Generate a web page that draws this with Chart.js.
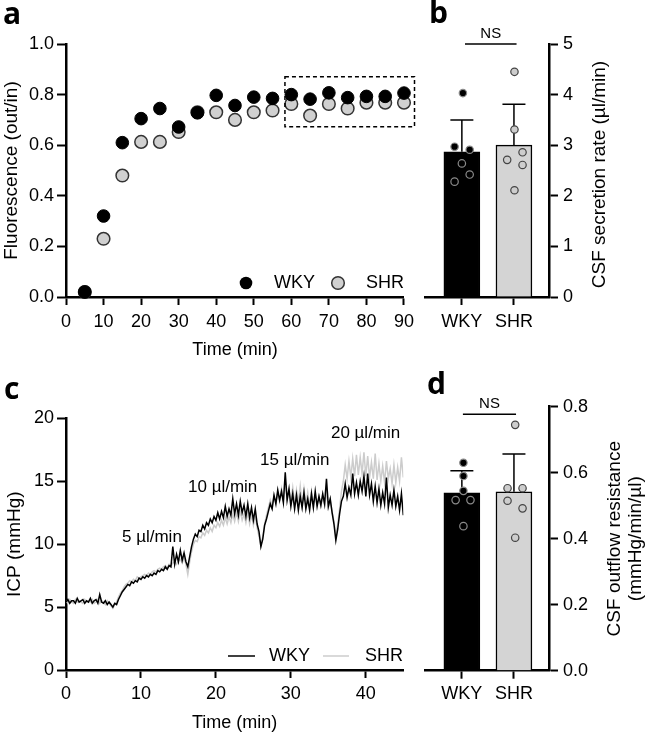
<!DOCTYPE html>
<html>
<head>
<meta charset="UTF-8">
<title>WKY vs SHR</title>
<script src="https://cdn.jsdelivr.net/npm/chart.js"></script>
<style>
  body { margin: 0; background: #fff; }
  #fig { position: relative; width: 650px; height: 735px; overflow: hidden; }
  canvas { position: absolute; }
  .letter { position: absolute; font: 700 30px "Open Sans", sans-serif; line-height: 30px; }
</style>
</head>
<body>
<div id="fig">
  <canvas id="chartA" width="420" height="365" style="left:0;top:0"></canvas>
  <canvas id="chartB" width="230" height="365" style="left:420px;top:0"></canvas>
  <canvas id="chartC" width="420" height="355" style="left:0;top:380px"></canvas>
  <canvas id="chartD" width="230" height="355" style="left:420px;top:380px"></canvas>
  <div class="letter" style="left:3px;top:-2px">a</div>
  <div class="letter" style="left:429px;top:-3px">b</div>
  <div class="letter" style="left:4px;top:373px">c</div>
  <div class="letter" style="left:427px;top:368px">d</div>
</div>
<script>
// a: fluorescence (out/in) over time
const fluorTime = [5, 10, 15, 20, 25, 30, 35, 40, 45, 50, 55, 60, 65, 70, 75, 80, 85, 90];
const fluorWKY = [0.02, 0.32, 0.61, 0.705, 0.745, 0.672, 0.728, 0.797, 0.757, 0.79, 0.785, 0.80, 0.782, 0.807, 0.788, 0.793, 0.793, 0.806];
const fluorSHR = [0.02, 0.23, 0.48, 0.613, 0.613, 0.652, 0.73, 0.73, 0.70, 0.73, 0.737, 0.763, 0.717, 0.763, 0.745, 0.768, 0.768, 0.768];
const plateauBox = [58.3, 92.8, 0.673, 0.871]; // x from, x to, y low, y high

// b: CSF secretion rate
const groups = ['WKY', 'SHR'];
const secretionMean = [2.87, 3.00];
const secretionSD = [0.63, 0.81];
const secretionWKY = [4.03, 2.97, 2.91, 2.64, 2.42, 2.28];
const secretionSHR = [4.45, 3.31, 2.71, 2.86, 2.61, 2.11];
const jitterB_WKY = [0.02, -0.14, 0.15, 0, 0.15, -0.14];
const jitterB_SHR = [0.01, 0.01, -0.13, 0.165, 0.165, 0.01];

// c: ICP trace, one sample every 0.25 min
const icpStep = 0.25;
const icpWKY = [
  5.4, 5.6, 5.3, 5.5,   5.5, 5.3, 5.7, 5.4,   5.5, 5.6, 5.3, 5.5,   5.4, 5.7, 5.3, 5.5,
  5.6, 5.3, 6.0, 5.4,   5.3, 5.5, 5.2, 5.4,   5.2, 5.0, 5.3, 5.2,   5.6, 5.9, 6.2, 6.4,
  6.6, 6.8, 6.7, 7.0,   6.9, 7.1, 7.0, 7.3,   7.2, 7.4, 7.3, 7.5,   7.4, 7.6, 7.5, 7.7,
  7.6, 7.9, 7.8, 8.0,   7.9, 8.2, 8.0, 8.3,   8.2, 9.8, 8.4, 9.2,   8.6, 9.5, 8.7, 9.3,
  8.6, 8.2, 9.0, 9.8,   10.4, 10.8, 10.6, 11.1,   11.0, 11.5, 11.2, 11.7,   11.5, 12.0, 11.7, 12.2,
  11.9, 12.5, 12.0, 12.6,   12.1, 13.0, 12.2, 12.8,   12.3, 13.6, 12.4, 13.2,   12.3, 13.4, 12.5, 13.1,
  12.2, 13.2, 12.1, 12.9,   11.9, 12.8, 11.6, 11.0,   9.8, 10.4, 11.5, 12.0,   12.6, 13.2, 12.8, 13.9,
  13.2, 14.3, 13.5, 14.2,   13.3, 15.7, 13.5, 14.4,   13.0, 14.0, 12.8, 13.9,   12.7, 13.8, 12.9, 14.1,
  12.8, 13.6, 12.7, 14.0,   12.9, 14.2, 13.0, 13.8,   13.1, 14.0, 13.2, 15.2,   13.0, 13.6, 12.5, 11.6,
  10.3, 11.2, 12.4, 13.4,   13.8, 14.8, 13.7, 14.5,   13.9, 15.6, 14.0, 14.9,   13.9, 15.0, 14.2, 15.4,
  13.8, 15.6, 13.9, 14.8,   13.4, 14.6, 13.3, 14.4,   13.1, 14.1, 13.2, 15.3,   12.9, 13.9, 13.1, 14.3,
  13.0, 13.8, 12.7, 14.0,   12.3
];
const icpSHR = [
  5.5, 5.3, 5.6, 5.4,   5.3, 5.6, 5.4, 5.5,   5.4, 5.3, 5.6, 5.4,   5.5, 5.4, 5.6, 5.3,
  5.4, 5.6, 5.3, 5.5,   5.4, 5.2, 5.5, 5.3,   5.1, 4.9, 5.2, 5.4,   5.8, 6.1, 6.3, 6.6,
  6.8, 6.9, 7.1, 7.0,   7.2, 7.1, 7.4, 7.3,   7.4, 7.5, 7.6, 7.5,   7.7, 7.6, 7.8, 7.9,
  7.8, 8.0, 8.1, 8.0,   8.2, 8.3, 8.1, 8.4,   8.3, 8.5, 8.6, 8.4,   8.7, 8.8, 8.5, 8.9,
  8.4, 7.6, 8.6, 9.4,   10.0, 10.3, 10.2, 10.6,   10.5, 10.9, 10.7, 11.1,   10.9, 11.3, 11.0, 11.5,
  11.3, 11.7, 11.4, 11.9,   11.5, 12.1, 11.6, 12.2,   11.7, 12.4, 11.8, 12.5,   11.8, 12.6, 11.9, 12.4,
  11.7, 12.5, 11.6, 12.3,   11.5, 12.2, 11.3, 10.6,   9.9, 10.6, 11.6, 12.3,   12.9, 13.5, 13.0, 13.8,
  13.3, 14.1, 13.4, 14.4,   13.5, 14.8, 13.6, 14.3,   13.4, 14.5, 13.2, 14.3,   13.3, 14.6, 13.1, 14.4,
  13.2, 14.1, 13.0, 14.2,   13.1, 13.9, 13.2, 13.8,   13.0, 13.7, 13.1, 14.2,   12.9, 13.5, 12.6, 11.8,
  10.7, 11.6, 12.8, 14.2,   15.0, 16.3, 15.2, 16.6,   15.3, 16.8, 15.4, 17.1,   15.5, 16.9, 15.6, 17.3,
  15.4, 17.0, 15.3, 16.5,   15.2, 17.2, 15.1, 16.4,   15.0, 16.2, 14.9, 16.6,   15.2, 16.0, 14.8, 16.3,
  14.9, 16.1, 15.0, 16.9,   15.3
];
const rateLabels = ['5 µl/min', '10 µl/min', '15 µl/min', '20 µl/min'];
const rateLabelTime = [11.46, 20.9, 30.52, 39.97];
const rateLabelICP = [10.55, 14.52, 16.64, 18.8];

// d: CSF outflow resistance
const resistanceMean = [0.539, 0.542];
const resistanceSD = [0.067, 0.115];
const resistanceWKY = [0.63, 0.59, 0.545, 0.517, 0.517, 0.438];
const resistanceSHR = [0.745, 0.553, 0.553, 0.515, 0.492, 0.403];
const jitterD_WKY = [0.03, 0.03, 0.03, -0.12, 0.165, 0.03];
const jitterD_SHR = [0.024, -0.123, 0.165, -0.123, 0.165, 0.024];

const FONT = '"Liberation Sans", Arial, sans-serif';
Chart.defaults.font.family = FONT;
Chart.defaults.font.size = 18;
Chart.defaults.color = '#000';

function axis(tickLen, pad, extra) {
  return Object.assign({
    border: { display: true, color: '#000', width: 2.5 },
    grid: { drawOnChartArea: false, tickLength: tickLen, tickWidth: 2, tickColor: '#000', offset: false },
    ticks: { padding: pad, color: '#000', font: { size: 18 } }
  }, extra);
}

function text(ctx, str, x, y, size, align, rot) {
  ctx.save();
  ctx.font = size + 'px ' + FONT;
  ctx.fillStyle = '#000';
  ctx.textAlign = align || 'center';
  ctx.textBaseline = 'middle';
  ctx.translate(x, y);
  if (rot) ctx.rotate(rot);
  ctx.fillText(str, 0, 0);
  ctx.restore();
}

// ---------- a ----------
new Chart(document.getElementById('chartA'), {
  type: 'scatter',
  data: {
    datasets: [
      { label: 'WKY', data: fluorTime.map((t, i) => ({ x: t, y: fluorWKY[i] })),
        pointRadius: 6.3, backgroundColor: '#000', borderColor: '#000', borderWidth: 1, order: 1, clip: false },
      { label: 'SHR', data: fluorTime.map((t, i) => ({ x: t, y: fluorSHR[i] })),
        pointRadius: 6.3, backgroundColor: '#d0d0d0', borderColor: '#333', borderWidth: 1.5, order: 2, clip: false }
    ]
  },
  options: {
    responsive: false, animation: false, events: [],
    layout: { padding: { top: 44, right: 15, left: 0, bottom: 0 } },
    plugins: { legend: { display: false }, tooltip: { enabled: false } },
    scales: {
      x: axis(8, 6, {
        min: 0, max: 90,
        ticks: { stepSize: 10, padding: 6, color: '#000', font: { size: 18 } },
        title: { display: true, text: 'Time (min)', font: { size: 18 }, padding: { top: 0, bottom: 4 } },
        afterFit: s => { s.height = 68; }
      }),
      y: axis(9, 3, {
        min: 0, max: 1,
        ticks: { stepSize: 0.2, padding: 3, color: '#000', font: { size: 18 }, callback: v => v.toFixed(1) },
        title: { display: true, text: 'Fluorescence (out/in)', font: { size: 19 }, padding: { top: 0, bottom: 0 } },
        afterFit: s => { s.width = 66; }
      })
    }
  },
  plugins: [{
    id: 'extrasA',
    afterDatasetsDraw(chart) {
      const { ctx, scales: { x, y } } = chart;
      const [x0, x1, y0, y1] = plateauBox;
      ctx.save();
      ctx.strokeStyle = '#000';
      ctx.lineWidth = 1.5;
      ctx.setLineDash([4, 3]);
      ctx.strokeRect(x.getPixelForValue(x0), y.getPixelForValue(y1),
        x.getPixelForValue(x1) - x.getPixelForValue(x0), y.getPixelForValue(y0) - y.getPixelForValue(y1));
      ctx.restore();
      // legend
      ctx.save();
      ctx.beginPath(); ctx.arc(246, 283, 6.3, 0, Math.PI * 2);
      ctx.fillStyle = '#000'; ctx.fill();
      ctx.beginPath(); ctx.arc(338, 283, 6.3, 0, Math.PI * 2);
      ctx.fillStyle = '#d0d0d0'; ctx.fill();
      ctx.lineWidth = 1.5; ctx.strokeStyle = '#333'; ctx.stroke();
      ctx.restore();
      text(ctx, 'WKY', 274, 283, 18, 'left');
      text(ctx, 'SHR', 366, 283, 18, 'left');
    }
  }]
});

// ---------- b & d ----------
function barPanel(id, o) {
  new Chart(document.getElementById(id), {
    type: 'bar',
    data: {
      datasets: [
        { type: 'bar', data: groups.map((g, i) => ({ x: i, y: o.mean[i] })),
          backgroundColor: ['#000', '#d4d4d4'], borderColor: '#000', borderWidth: 1.5, barThickness: 36, order: 3 },
        { type: 'scatter', data: o.wky.map((v, i) => ({ x: o.jw[i], y: v })),
          pointRadius: 3.7, backgroundColor: '#000', borderColor: '#8a8a8a', borderWidth: 1.2, order: 1, clip: false },
        { type: 'scatter', data: o.shr.map((v, i) => ({ x: 1 + o.js[i], y: v })),
          pointRadius: 3.7, backgroundColor: '#cdcdcd', borderColor: '#444', borderWidth: 1.2, order: 1, clip: false }
      ]
    },
    options: {
      responsive: false, animation: false, events: [],
      layout: { padding: { top: o.top, right: 0, left: 0, bottom: 0 } },
      plugins: { legend: { display: false }, tooltip: { enabled: false } },
      scales: {
        x: axis(8, o.xpad, {
          type: 'linear', offset: false, min: -0.704, max: 1.673,
          afterBuildTicks: s => { s.ticks = groups.map((g, i) => ({ value: i })); },
          ticks: { padding: o.xpad, color: '#000', font: { size: 18 }, callback: v => groups[v] },
          afterFit: s => { s.height = o.xh; }
        }),
        y: axis(9, 5, {
          position: 'right', min: 0, max: o.max,
          ticks: { stepSize: o.step, padding: 5, color: '#000', font: { size: 18 }, callback: v => v.toFixed(o.dec) },
          afterFit: s => { s.width = 101; }
        })
      }
    },
    plugins: [{
      id: 'extras' + id,
      afterDatasetDraw(chart, args) {
        if (args.index !== 0) return;
        const { ctx, scales: { x, y } } = chart;
        ctx.save();
        ctx.strokeStyle = '#000';
        ctx.lineWidth = 1.5;
        o.mean.forEach((m, i) => {
          const px = x.getPixelForValue(i);
          const top = y.getPixelForValue(m + o.sd[i]);
          ctx.beginPath();
          ctx.moveTo(px, y.getPixelForValue(m));
          ctx.lineTo(px, top);
          ctx.moveTo(px - 11.5, top);
          ctx.lineTo(px + 11.5, top);
          ctx.stroke();
        });
        ctx.restore();
      },
      afterDraw(chart) {
        const { ctx, chartArea, scales: { x, y } } = chart;
        const ly = y.getPixelForValue(o.nsY);
        ctx.save();
        ctx.strokeStyle = '#000';
        ctx.lineWidth = 1.5;
        ctx.beginPath();
        ctx.moveTo(x.getPixelForValue(o.nsFrom), ly);
        ctx.lineTo(x.getPixelForValue(o.nsTo), ly);
        ctx.stroke();
        ctx.restore();
        text(ctx, 'NS', x.getPixelForValue((o.nsFrom + o.nsTo) / 2), ly - 10, 15);
        const yc = (chartArea.top + chartArea.bottom) / 2 + o.titleShift;
        o.title.forEach((line, i) => {
          text(ctx, line, y.left + o.titleX[i], yc, 19, 'center', -Math.PI / 2);
        });
      }
    }]
  });
}

barPanel('chartB', {
  mean: secretionMean, sd: secretionSD, wky: secretionWKY, shr: secretionSHR,
  jw: jitterB_WKY, js: jitterB_SHR, max: 5, step: 1, dec: 0,
  top: 44, xh: 68, xpad: 6, nsY: 5.0, nsFrom: 0.06, nsTo: 1.05,
  title: ['CSF secretion rate (µl/min)'], titleX: [51], titleShift: 4
});

barPanel('chartD', {
  mean: resistanceMean, sd: resistanceSD, wky: resistanceWKY, shr: resistanceSHR,
  jw: jitterD_WKY, js: jitterD_SHR, max: 0.8, step: 0.2, dec: 1,
  top: 26.7, xh: 64.3, xpad: 4.5, nsY: 0.777, nsFrom: 0.02, nsTo: 1.04,
  title: ['CSF outflow resistance', '(mmHg/min/µl)'], titleX: [66, 87], titleShift: 0
});

// ---------- c ----------
new Chart(document.getElementById('chartC'), {
  type: 'line',
  data: {
    datasets: [
      { label: 'WKY', data: icpWKY.map((v, i) => ({ x: i * icpStep, y: v })),
        borderColor: '#000', borderWidth: 1.5, pointRadius: 0, tension: 0, order: 1 },
      { label: 'SHR', data: icpSHR.map((v, i) => ({ x: i * icpStep, y: v })),
        borderColor: '#cccccc', borderWidth: 1.5, pointRadius: 0, tension: 0, order: 2 }
    ]
  },
  options: {
    responsive: false, animation: false, events: [],
    layout: { padding: { top: 38.3, right: 16.7, left: 0, bottom: 0 } },
    plugins: { legend: { display: false }, tooltip: { enabled: false } },
    scales: {
      x: axis(8, 5, {
        type: 'linear', min: 0, max: 45,
        ticks: { stepSize: 10, includeBounds: false, padding: 5, color: '#000', font: { size: 18 } },
        title: { display: true, text: 'Time (min)', font: { size: 18 }, padding: { top: 0, bottom: 1 } },
        afterFit: s => { s.height = 65; }
      }),
      y: axis(9, 3, {
        min: 0, max: 20,
        ticks: { stepSize: 5, padding: 3, color: '#000', font: { size: 18 } },
        title: { display: true, text: 'ICP (mmHg)', font: { size: 19 }, padding: { top: 3.6, bottom: 0 } },
        afterFit: s => { s.width = 66; }
      })
    }
  },
  plugins: [{
    id: 'extrasC',
    afterDraw(chart) {
      const { ctx, scales: { x, y } } = chart;
      rateLabels.forEach((s, i) => {
        text(ctx, s, x.getPixelForValue(rateLabelTime[i]), y.getPixelForValue(rateLabelICP[i]), 17);
      });
      ctx.save();
      ctx.lineWidth = 1.5;
      ctx.strokeStyle = '#000';
      ctx.beginPath(); ctx.moveTo(228, 276); ctx.lineTo(255, 276); ctx.stroke();
      ctx.strokeStyle = '#cccccc';
      ctx.beginPath(); ctx.moveTo(323, 276); ctx.lineTo(349, 276); ctx.stroke();
      ctx.restore();
      text(ctx, 'WKY', 269, 276, 18, 'left');
      text(ctx, 'SHR', 365, 276, 18, 'left');
    }
  }]
});
</script>
</body>
</html>
